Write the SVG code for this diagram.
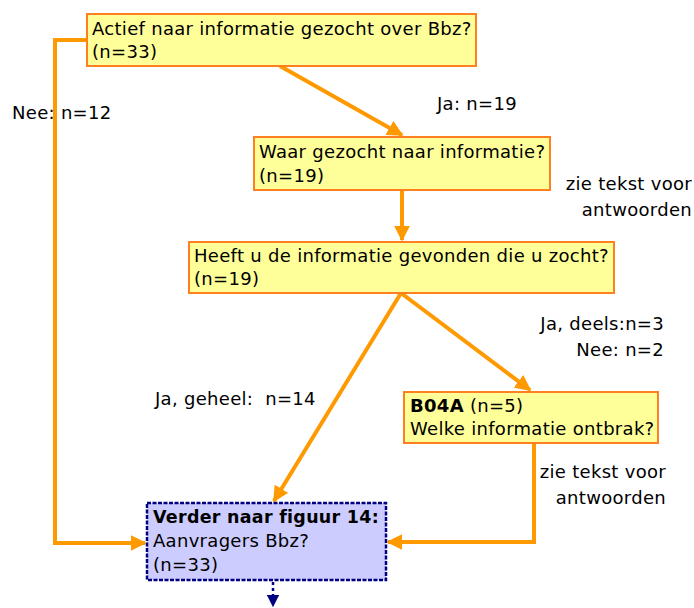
<svg xmlns="http://www.w3.org/2000/svg" width="694" height="608" viewBox="0 0 694 608">
<style>
text{font-family:"DejaVu Sans",Verdana,sans-serif;font-size:18px;letter-spacing:0.3px;fill:#000}
.box{fill:#FFFF99;stroke:#FF8020;stroke-width:2}
.fin{fill:#CCCCFF;stroke:#000080;stroke-width:2.5;stroke-dasharray:4 1.5}
.c{fill:none;stroke:#FF9900;stroke-width:4}
.d{fill:none;stroke:#000080;stroke-width:2.5;stroke-dasharray:3 3}
.b{font-weight:bold}
.r{text-anchor:end}
</style>
<defs>
<marker id="a" viewBox="0 0 10 10" refX="9" refY="5" markerWidth="4" markerHeight="4" markerUnits="strokeWidth" orient="auto"><path d="M0,0L10,5L0,10z" fill="#FF9900"/></marker>
<marker id="n" viewBox="0 0 10 10" refX="9" refY="5" markerWidth="5" markerHeight="5" markerUnits="strokeWidth" orient="auto"><path d="M0,0L10,5L0,10z" fill="#000080"/></marker>
</defs>
<g id="connectors">
<path class="c" d="M280,66L402,135" marker-end="url(#a)"/>
<path class="c" d="M87,40H55V543H145" marker-end="url(#a)"/>
<path class="c" d="M402,190V240" marker-end="url(#a)"/>
<path class="c" d="M401,293L274,501" marker-end="url(#a)"/>
<path class="c" d="M401,293L530,390" marker-end="url(#a)"/>
<path class="c" d="M534,443V542H388" marker-end="url(#a)"/>
<path class="d" d="M273,582V606" marker-end="url(#n)"/>
</g>
<g id="n1"><rect class="box" x="87" y="14" width="389" height="52"/><text x="92" y="35">Actief naar informatie gezocht over Bbz?</text><text x="92" y="58">(n=33)</text></g>
<g id="n2"><rect class="box" x="254" y="137" width="296" height="53"/><text x="259" y="158">Waar gezocht naar informatie?</text><text x="259" y="182">(n=19)</text></g>
<g id="n3"><rect class="box" x="189" y="242" width="425" height="51"/><text x="194" y="262">Heeft u de informatie gevonden die u zocht?</text><text x="194" y="285">(n=19)</text></g>
<g id="n4"><rect class="box" x="404" y="392" width="254" height="51"/><text x="410" y="412"><tspan class="b">B04A</tspan> (n=5)</text><text x="410" y="435">Welke informatie ontbrak?</text></g>
<g id="n5"><rect class="fin" x="147" y="503" width="239" height="77"/><text x="153" y="523" class="b" textLength="226" lengthAdjust="spacingAndGlyphs">Verder naar figuur 14:</text><text x="153" y="547">Aanvragers Bbz?</text><text x="153" y="571">(n=33)</text></g>
<g id="labels">
<text x="12" y="119">Nee: n=12</text>
<text x="437" y="110">Ja: n=19</text>
<text class="r" x="692" y="190">zie tekst voor</text>
<text class="r" x="692" y="216">antwoorden</text>
<text class="r" x="664" y="330">Ja, deels:n=3</text>
<text class="r" x="664" y="356">Nee: n=2</text>
<text x="155" y="405" xml:space="preserve">Ja, geheel:  n=14</text>
<text class="r" x="666" y="478">zie tekst voor</text>
<text class="r" x="666" y="504">antwoorden</text>
</g>
</svg>
